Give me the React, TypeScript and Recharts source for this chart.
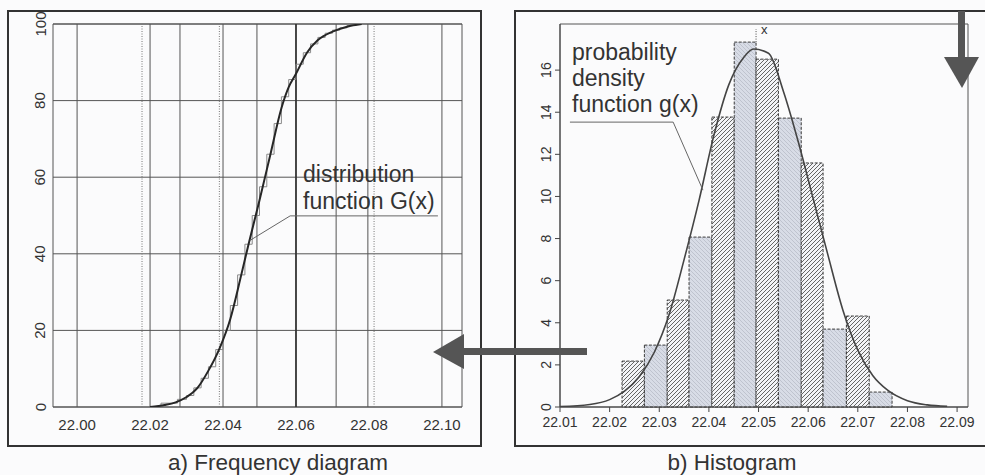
import React from 'react'
import {
  ComposedChart,
  Line,
  XAxis,
  YAxis,
  CartesianGrid,
  ReferenceLine,
  ReferenceArea,
} from 'recharts'

const INK = '#333333'
const GRID = '#555555'
const BG = '#fbfbfc'
const ARROW = '#555555'
const FONT = '"Liberation Sans", Arial, Helvetica, sans-serif'

// a) frequency diagram
const freqDomainX: [number, number] = [21.9934, 22.1055]
const freqTicksX = [22.0, 22.02, 22.04, 22.06, 22.08, 22.1]
const freqTicksY = [0, 20, 40, 60, 80, 100]
const freqGridSolid = [22.0, 22.02, 22.0282, 22.04, 22.0493, 22.071, 22.0797, 22.1]
const freqGridDotted = [22.0178, 22.039, 22.0814]
const freqGridHeavy = [22.06]

// smooth distribution function G(x)
const gX = [22.02, 22.024, 22.027, 22.03, 22.033, 22.036, 22.039, 22.042, 22.045, 22.047, 22.05, 22.053, 22.056, 22.058, 22.06, 22.063, 22.066, 22.07, 22.074, 22.078]
const gY = [0, 0.5, 1.2, 2.6, 5, 9.5, 15.2, 23, 34.5, 42.5, 54, 66, 78, 83.5, 87, 92.5, 95.8, 98, 99.3, 100]

// empirical (stepped) cumulative frequency
const stepX = [22.02, 22.026, 22.029, 22.031, 22.033, 22.035, 22.037, 22.039, 22.041, 22.043, 22.045, 22.047, 22.049, 22.051, 22.053, 22.055, 22.057, 22.059, 22.061, 22.063, 22.065, 22.067, 22.069, 22.071, 22.073, 22.075, 22.078]
const stepY = [0, 1, 2, 3, 5, 7.5, 10.5, 15, 20, 26.5, 34.5, 42.5, 50, 57.5, 66, 74, 81, 85.5, 89.5, 92.5, 94.8, 96.5, 97.6, 98.4, 99, 99.6, 100]

// b) histogram
const histDomainX: [number, number] = [22.01, 22.0922]
const histDomainY: [number, number] = [0, 18.19]
const histTicksX = [22.01, 22.02, 22.03, 22.04, 22.05, 22.06, 22.07, 22.08, 22.09]
const histTicksY = [0, 2, 4, 6, 8, 10, 12, 14, 16]
const binEdges = [22.0225, 22.027, 22.0316, 22.036, 22.0406, 22.0451, 22.0495, 22.054, 22.0586, 22.063, 22.0677, 22.0723, 22.0769]
const binHeights = [2.18, 2.94, 5.08, 8.07, 13.77, 17.33, 16.52, 13.72, 11.59, 3.7, 4.32, 0.71]
const densX = [22.01, 22.016, 22.02, 22.023, 22.026, 22.029, 22.032, 22.035, 22.038, 22.041, 22.044, 22.047, 22.049, 22.052, 22.055, 22.058, 22.061, 22.064, 22.067, 22.07, 22.073, 22.076, 22.08, 22.084, 22.088]
const densY = [0.02, 0.12, 0.35, 0.75, 1.45, 2.6, 4.4, 7.0, 9.8, 12.9, 15.3, 16.6, 17.0, 16.8, 15.0, 12.6, 9.9, 7.2, 4.6, 2.7, 1.5, 0.8, 0.3, 0.1, 0.03]
const MEAN = 22.0495

const gData = gX.map((x, i) => ({ x, y: gY[i] }))
const stepData = stepX.map((x, i) => ({ x, y: stepY[i] }))
const densData = densX.map((x, i) => ({ x, y: densY[i] }))
const bins = binHeights.map((h, i) => ({ x1: binEdges[i], x2: binEdges[i + 1], h }))

function VTick(props: any) {
  const { y, payload, cx, size } = props
  return (
    <text
      x={cx}
      y={y}
      transform={`rotate(-90 ${cx} ${y})`}
      textAnchor="middle"
      dominantBaseline="central"
      fontSize={size}
      fontFamily={FONT}
      fill={INK}
    >
      {payload.value}
    </text>
  )
}

function FrequencyDiagram() {
  return (
    <ComposedChart width={485} height={450} margin={{ top: 24, right: 23, bottom: 13, left: 8 }}>
      <CartesianGrid vertical={false} stroke={GRID} />
      <XAxis
        type="number"
        dataKey="x"
        domain={freqDomainX}
        ticks={freqTicksX}
        allowDataOverflow
        tickFormatter={v => Number(v).toFixed(2)}
        axisLine={false}
        tickLine={false}
        tickSize={6}
        tickMargin={6}
        height={30}
        tick={{ fontSize: 15, fill: INK, fontFamily: FONT }}
      />
      <YAxis
        type="number"
        domain={[0, 100]}
        ticks={freqTicksY}
        allowDataOverflow
        width={45}
        axisLine={false}
        tickLine={false}
        tick={(p: any) => <VTick {...p} cx={40} size={15} />}
      />
      <ReferenceArea x1={freqDomainX[0]} x2={freqDomainX[1]} y1={0} y2={100} fill="none" stroke={GRID} />
      {freqGridSolid.map(v => (
        <ReferenceLine key={`s${v}`} x={v} stroke={GRID} strokeWidth={1} />
      ))}
      {freqGridDotted.map(v => (
        <ReferenceLine key={`d${v}`} x={v} stroke="#777" strokeWidth={1} strokeDasharray="1 1.5" />
      ))}
      {freqGridHeavy.map(v => (
        <ReferenceLine key={`h${v}`} x={v} stroke="#333" strokeWidth={1.8} />
      ))}
      <Line
        data={stepData}
        dataKey="y"
        type="step"
        stroke="#8a8a8a"
        strokeWidth={1}
        dot={false}
        isAnimationActive={false}
      />
      <Line
        data={gData}
        dataKey="y"
        type="monotone"
        stroke="#262626"
        strokeWidth={2}
        dot={false}
        isAnimationActive={false}
      />
      {/* leader for "distribution function G(x)" */}
      <ReferenceLine segment={[{ x: 22.0584, y: 49.9 }, { x: 22.0989, y: 49.9 }]} stroke="#666" />
      <ReferenceLine segment={[{ x: 22.0584, y: 49.9 }, { x: 22.0474, y: 43.5 }]} stroke="#666" />
    </ComposedChart>
  )
}

function Histogram() {
  return (
    <ComposedChart width={485} height={450} margin={{ top: 24, right: 17, bottom: 13, left: 10 }}>
      <XAxis
        type="number"
        dataKey="x"
        domain={histDomainX}
        ticks={histTicksX}
        allowDataOverflow
        tickFormatter={v => Number(v).toFixed(2)}
        stroke="#444"
        tickSize={5}
        tickMargin={5}
        height={30}
        tick={{ fontSize: 14, fill: INK, fontFamily: FONT }}
      />
      <YAxis
        type="number"
        domain={histDomainY}
        ticks={histTicksY}
        allowDataOverflow
        width={50}
        stroke="#444"
        tickSize={5}
        tick={(p: any) => <VTick {...p} cx={46} size={14} />}
      />
      <ReferenceArea
        x1={histDomainX[0]}
        x2={histDomainX[1]}
        y1={histDomainY[0]}
        y2={histDomainY[1]}
        fill="none"
        stroke={GRID}
      />
      {bins.map((b, i) => (
        <ReferenceArea
          key={i}
          x1={b.x1}
          x2={b.x2}
          y1={0}
          y2={b.h}
          fill={i % 2 === 0 ? 'url(#hatchFwd)' : 'url(#hatchBack)'}
          fillOpacity={1}
          stroke="#3a3a3a"
          strokeWidth={1}
          strokeDasharray="3 1.5"
        />
      ))}
      <ReferenceLine
        segment={[{ x: MEAN, y: 17.33 }, { x: MEAN, y: 17.95 }]}
        stroke="#444"
        strokeDasharray="1 1.5"
        label={{ value: 'x', position: 'right', fontSize: 13, fill: INK, fontFamily: FONT, dy: -6 }}
      />
      <Line
        data={densData}
        dataKey="y"
        type="monotone"
        stroke="#444"
        strokeWidth={1.6}
        dot={false}
        isAnimationActive={false}
      />
      {/* leader for "probability density function g(x)" */}
      <ReferenceLine segment={[{ x: 22.012, y: 13.53 }, { x: 22.0328, y: 13.53 }]} stroke="#666" />
      <ReferenceLine segment={[{ x: 22.0328, y: 13.53 }, { x: 22.0388, y: 10.3 }]} stroke="#666" />
    </ComposedChart>
  )
}

export default function App() {
  return (
    <div
      style={{
        position: 'absolute',
        left: 0,
        top: 0,
        width: 985,
        height: 475,
        overflow: 'hidden',
        background: BG,
        fontFamily: FONT,
      }}
    >
      <svg width={0} height={0} style={{ position: 'absolute' }}>
        <defs>
          <pattern id="hatchFwd" width={4} height={4} patternUnits="userSpaceOnUse">
            <rect width={4} height={4} fill="#f3f4f7" />
            <path d="M0,4 L4,0 M-1,1 L1,-1 M3,5 L5,3" stroke="#555" strokeWidth={0.9} />
          </pattern>
          <pattern id="hatchBack" width={4} height={4} patternUnits="userSpaceOnUse">
            <rect width={4} height={4} fill="#d8dce6" />
            <path d="M0,0 L4,4 M-1,3 L1,5 M3,-1 L5,1" stroke="#b9bdc8" strokeWidth={0.8} />
          </pattern>
        </defs>
      </svg>
      <div style={{ position: 'absolute', left: 0, top: 0 }}>
        <FrequencyDiagram />
      </div>
      <div style={{ position: 'absolute', left: 500, top: 0 }}>
        <Histogram />
      </div>
      <svg
        width={985}
        height={475}
        style={{ position: 'absolute', left: 0, top: 0, pointerEvents: 'none' }}
        fontFamily={FONT}
      >
        <rect x={8} y={11} width={473} height={435} fill="none" stroke="#333" strokeWidth={2} />
        <rect x={515} y={11} width={490} height={435} fill="none" stroke="#333" strokeWidth={2} />
        <text x={303} y={182} fontSize={23} fill={INK}>distribution</text>
        <text x={303} y={209} fontSize={23} fill={INK}>function G(x)</text>
        <text x={572} y={60} fontSize={23} fill={INK}>probability</text>
        <text x={572} y={86} fontSize={23} fill={INK}>density</text>
        <text x={572} y={112} fontSize={23} fill={INK}>function g(x)</text>
        <rect x={464} y={348} width={123} height={7} fill={ARROW} />
        <polygon points="433,352 464,334 464,369" fill={ARROW} />
        <rect x={958} y={11} width={7} height={47} fill={ARROW} />
        <polygon points="944,57 979,57 962,88" fill={ARROW} />
        <text x={278} y={470} fontSize={22.5} textAnchor="middle" fill={INK}>a) Frequency diagram</text>
        <text x={732} y={470} fontSize={22.5} textAnchor="middle" fill={INK}>b) Histogram</text>
      </svg>
    </div>
  )
}
